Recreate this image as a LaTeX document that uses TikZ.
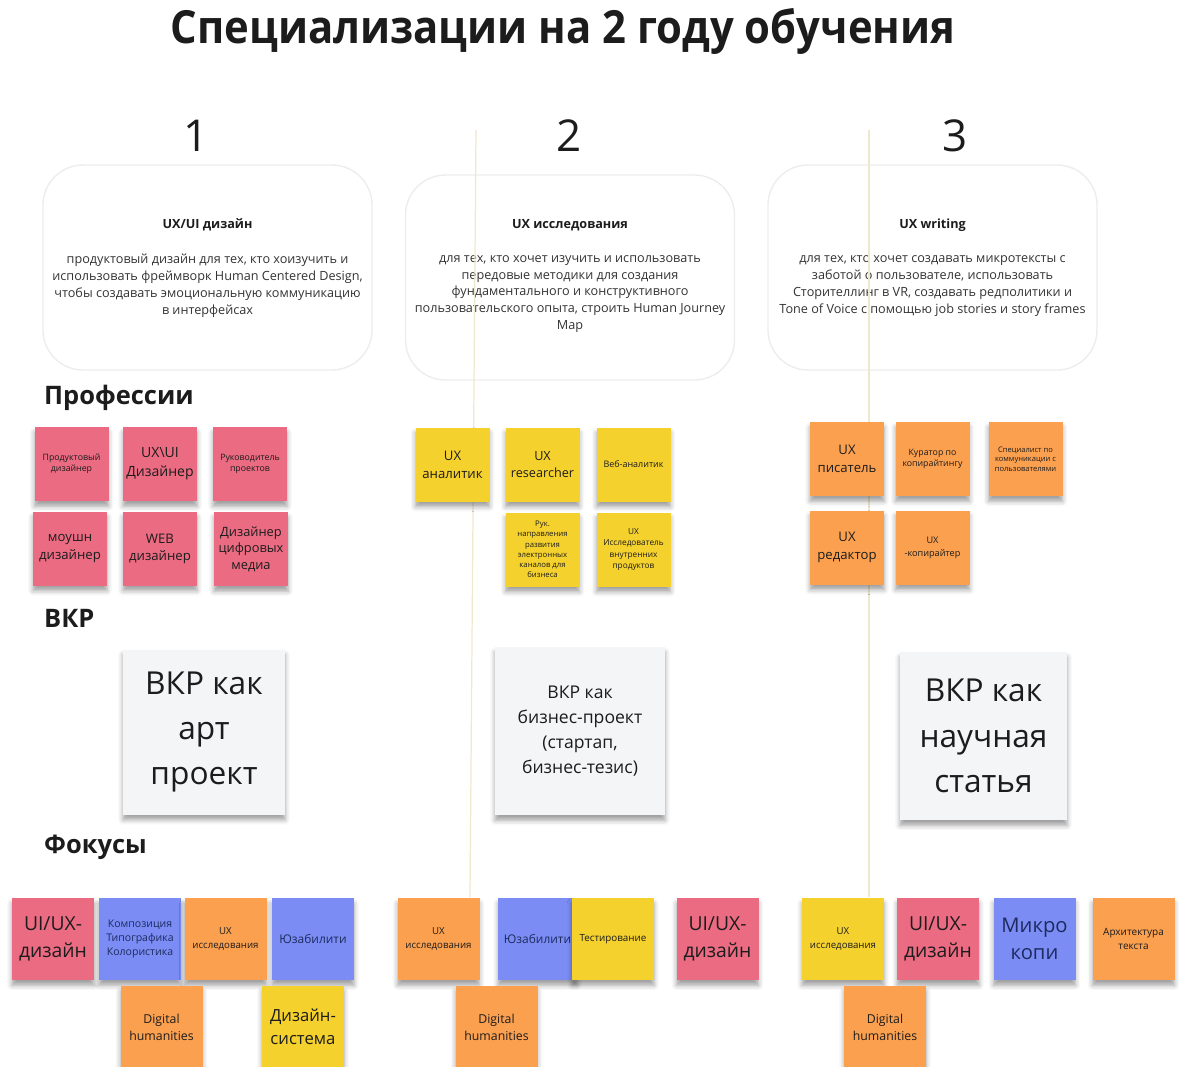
\documentclass[tikz,border=0pt]{standalone}
\usepackage{fontspec}
\setmainfont{Open Sans}
\usetikzlibrary{shadows.blur}
\definecolor{notepink}{HTML}{EB6B82}
\definecolor{noteyellow}{HTML}{F5D12E}
\definecolor{noteorange}{HTML}{FBA04F}
\definecolor{noteblue}{HTML}{7B8DF4}
\definecolor{paper}{HTML}{F4F5F7}
\definecolor{ink}{HTML}{1C1C1C}
\definecolor{bodyink}{HTML}{333333}
\definecolor{blueink}{HTML}{1E2A5E}
\definecolor{divider}{HTML}{EFE8CC}
\newcommand{\px}{0.02cm}
\newcommand{\sz}[2]{\fontsize{#1}{#2}\selectfont}

\tikzset{
  stickyshadow/.style={blur shadow={shadow xshift=0pt, shadow yshift=-3pt, shadow opacity=38, shadow blur radius=2.8pt}},
  sticky/.style={rectangle, minimum width=74*\px, minimum height=74*\px, inner sep=1pt, align=center, text=ink, stickyshadow},
  focusnote/.style={sticky, minimum width=82*\px, minimum height=82*\px},
  vkrcard/.style={rectangle, fill=paper, align=center, text=ink, stickyshadow},
  speccard/.style={rectangle, rounded corners=0.8cm, draw=black!7, line width=0.8pt, fill=white, minimum width=329*\px, minimum height=205*\px},
  sectionlabel/.style={anchor=west, font=\bfseries\sz{14.5}{17}, text=ink},
  divline/.style={draw=divider, line width=0.7pt},
}

\begin{document}
\begin{tikzpicture}[x=\px, y=-\px]
\useasboundingbox (0,0) rectangle (1192,1066);
\clip (0,0) rectangle (1192,1066);

\node[font=\bfseries\sz{26}{30}, text=ink] (title) at (563,31) {\scalebox{0.915}[1]{Специализации на 2 году обучения}};

% numbers
\node[font=\sz{25}{30}, text=ink] (n1) at (196,136) {1};
\node[font=\sz{25}{30}, text=ink] (n2) at (569,136) {2};
\node[font=\sz{25}{30}, text=ink] (n3) at (955,136) {3};

% specialisations
\node[speccard] (card1) at (207.5,267.5) {};
\node[speccard] (card2) at (570,277.5) {};
\node[speccard] (card3) at (932.5,267.5) {};
\node[font=\bfseries\sz{7.2}{9.6}, text=ink] (t1) at (207.5,225) {UX/UI дизайн};
\node[font=\bfseries\sz{7.2}{9.6}, text=ink] (t2) at (570,225) {UX исследования};
\node[font=\bfseries\sz{7.2}{9.6}, text=ink] (t3) at (932.5,225) {UX writing};
\node[font=\sz{7.2}{9.64}, align=center, text=bodyink] (d1) at (207.5,286) {продуктовый дизайн для тех, кто хоизучить и\\использовать фреймворк Human Centered Design,\\чтобы создавать эмоциональную коммуникацию\\в интерфейсах};
\node[font=\sz{7.2}{9.64}, align=center, text=bodyink] (d2) at (570,294) {для тех, кто хочет изучить и использовать\\передовые методики для создания\\фундаментального и конструктивного\\пользовательского опыта, строить Human Journey\\Map};
\node[font=\sz{7.2}{9.64}, align=center, text=bodyink] (d3) at (932.5,286) {для тех, кто хочет создавать микротексты с\\заботой о пользователе, использовать\\Сторителлинг в VR, создавать редполитики и\\Tone of Voice с помощью job stories и story frames};

% dividers
\coordinate (top2) at (476,130);
\coordinate (bot2) at (470,897);
\coordinate (top3) at (869,130);
\coordinate (bot3) at (869,897);
\draw[divline] (top2) -- (bot2);
\draw[divline] (top3) -- (bot3);

% sections
\node[sectionlabel] (prof) at (38,398) {Профессии};
\node[sectionlabel] (vkr) at (38,618) {ВКР};
\node[sectionlabel] (focus) at (38,847) {Фокусы};

% professions 1
\node[sticky, fill=notepink, font=\sz{5}{6.3}] (p11) at (71.5,464) {Продуктовый\\дизайнер};
\node[sticky, fill=notepink, font=\sz{8}{10.8}] (p12) at (160,464) {UX\textbackslash UI\\Дизайнер};
\node[sticky, fill=notepink, font=\sz{5}{6.3}] (p13) at (250,464) {Руководитель\\проектов};
\node[sticky, fill=notepink, font=\sz{7.5}{9.8}] (p14) at (70,548.5) {моушн\\дизайнер};
\node[sticky, fill=notepink, font=\sz{7.5}{9.8}] (p15) at (160,548.5) {WEB\\дизайнер};
\node[sticky, fill=notepink, font=\sz{7.3}{9.4}] (p16) at (251,549) {Дизайнер\\цифровых\\медиа};

% professions 2
\node[sticky, fill=noteyellow, font=\sz{7.5}{10.2}] (p21) at (452.5,464.5) {UX\\аналитик};
\node[sticky, fill=noteyellow, font=\sz{7.2}{10.2}] (p22) at (542.5,464.5) {UX\\researcher};
\node[sticky, fill=noteyellow, font=\sz{5.1}{6.5}] (p23) at (633.5,464.5) {Веб-аналитик};
\node[sticky, fill=noteyellow, font=\sz{4.4}{5.8}] (p24) at (542.5,549.5) {Рук.\\направления\\развития\\электронных\\каналов для\\бизнеса};
\node[sticky, fill=noteyellow, font=\sz{4.7}{6.4}] (p25) at (633.5,549.5) {UX\\Исследователь\\внутренних\\продуктов};

% professions 3
\node[sticky, fill=noteorange, font=\sz{7.5}{10.2}] (p31) at (847,459) {UX\\писатель};
\node[sticky, fill=noteorange, font=\sz{5}{6.3}] (p32) at (932.5,459) {Куратор по\\копирайтингу};
\node[sticky, fill=noteorange, font=\sz{4.3}{5.4}] (p33) at (1025.5,459) {Специалист по\\коммуникации с\\пользователями};
\node[sticky, fill=noteorange, font=\sz{7.5}{10.2}] (p34) at (847,547.5) {UX\\редактор};
\node[sticky, fill=noteorange, font=\sz{5.2}{7.3}] (p35) at (932.5,547.5) {UX\\-копирайтер};

% final works
\node[vkrcard, minimum width=162*\px, minimum height=165*\px, font=\sz{18}{25.5}] (v1) at (204,732) {ВКР как\\арт\\проект};
\node[vkrcard, minimum width=170*\px, minimum height=168*\px, font=\sz{10}{14.2}] (v2) at (580,731) {ВКР как\\бизнес-проект\\(стартап,\\бизнес-тезис)};
\node[vkrcard, minimum width=167*\px, minimum height=168*\px, font=\sz{18}{26}] (v3) at (983.5,736) {ВКР как\\научная\\статья};

% focuses 1
\node[focusnote, fill=notepink, font=\sz{11}{15.3}] (f11) at (53,939) {UI/UX-\\дизайн};
\node[focusnote, fill=noteblue, text=blueink, font=\sz{6}{8}] (f12) at (140,939) {Композиция\\Типографика\\Колористика};
\node[focusnote, fill=noteorange, font=\sz{5.5}{7.8}] (f13) at (225.5,939) {UX\\исследования};
\node[focusnote, fill=noteblue, text=blueink, font=\sz{6.8}{8.5}] (f14) at (313,939) {Юзабилити};
\node[focusnote, fill=noteorange, font=\sz{7}{9.6}] (f15) at (161.5,1027) {Digital\\humanities};
\node[focusnote, fill=noteyellow, font=\sz{9.5}{13}] (f16) at (303,1027) {Дизайн-\\система};

% focuses 2
\node[focusnote, fill=noteorange, font=\sz{5.5}{7.8}] (f21) at (438.5,939) {UX\\исследования};
\node[focusnote, fill=noteblue, text=blueink, minimum width=79*\px, font=\sz{6.8}{8.5}] (f22) at (537.5,939) {Юзабилити};
\node[focusnote, fill=noteyellow, font=\sz{5.6}{7}] (f23) at (613,939) {Тестирование};
\node[focusnote, fill=notepink, font=\sz{11}{15.3}] (f24) at (717.5,939) {UI/UX-\\дизайн};
\node[focusnote, fill=noteorange, font=\sz{7}{9.6}] (f25) at (496.5,1027) {Digital\\humanities};

% focuses 3
\node[focusnote, fill=noteyellow, font=\sz{5.5}{7.8}] (f31) at (843,939) {UX\\исследования};
\node[focusnote, fill=notepink, font=\sz{11}{15.3}] (f32) at (938,939) {UI/UX-\\дизайн};
\node[focusnote, fill=noteblue, text=blueink, font=\sz{11.5}{15.3}] (f33) at (1034.5,939) {Микро\\копи};
\node[focusnote, fill=noteorange, font=\sz{5.7}{7.8}] (f34) at (1133.5,939) {Архитектура\\текста};
\node[focusnote, fill=noteorange, font=\sz{7}{9.6}] (f35) at (885,1027) {Digital\\humanities};
\end{tikzpicture}
\end{document}
